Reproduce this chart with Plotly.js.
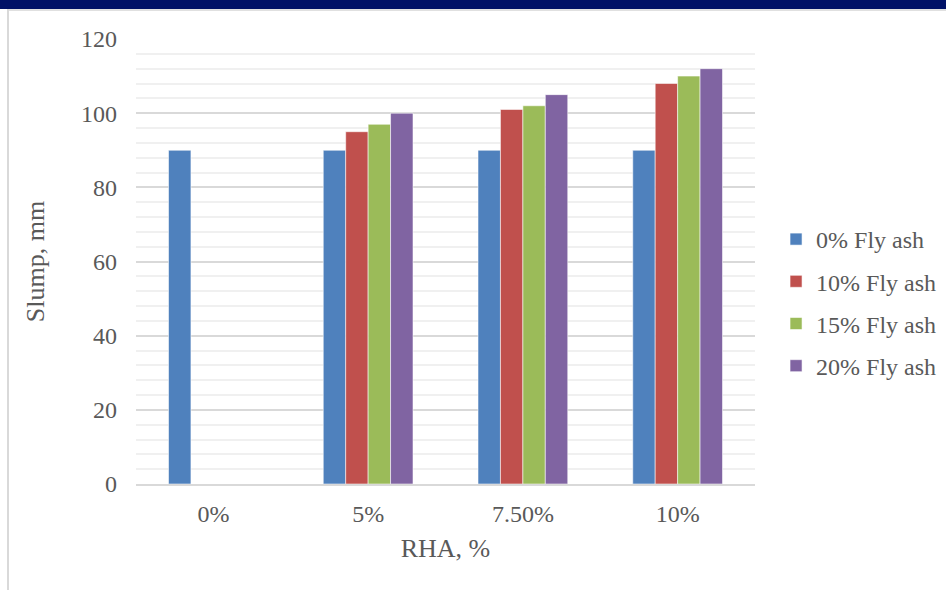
<!DOCTYPE html>
<html>
<head>
<meta charset="utf-8">
<script src="https://cdn.plot.ly/plotly-3.0.1.min.js"></script>
<style>
  html, body { margin: 0; padding: 0; background: #ffffff; }
  #wrap { position: relative; width: 946px; height: 590px; overflow: hidden; }
  #band { position: absolute; left: 0; top: 0; width: 946px; height: 9px; background: #001166; z-index: 2; }
  #topline { position: absolute; left: 8px; top: 9px; width: 938px; height: 2px; background: #e0e0e0; z-index: 2; }
  #leftline { position: absolute; left: 7px; top: 9px; width: 2px; height: 581px; background: #d9d9d9; z-index: 2; }
  #chart { position: absolute; left: 0; top: 0; width: 946px; height: 590px; }
</style>
</head>
<body>
<div id="wrap">
  <div id="chart"></div>
  <div id="band"></div>
  <div id="topline"></div>
  <div id="leftline"></div>
</div>
<script>
const categories = ["0%", "5%", "7.50%", "10%"];
const seriesNames = ["0% Fly ash", "10% Fly ash", "15% Fly ash", "20% Fly ash"];
const flyAsh0 = [90, 90, 90, 90];
const flyAsh10 = [0, 95, 101, 108];
const flyAsh15 = [0, 97, 102, 110];
const flyAsh20 = [0, 100, 105, 112];
const yTicks = [0, 20, 40, 60, 80, 100, 120];
const colors = ["#4F81BD", "#C0504D", "#9BBB59", "#8064A2"];

const seriesValues = [flyAsh0, flyAsh10, flyAsh15, flyAsh20];
const traces = seriesValues.map((vals, i) => ({
  type: "bar",
  name: seriesNames[i],
  x: categories,
  y: vals,
  legendgroup: "g" + i,
  marker: { color: colors[i], line: { color: "rgba(255,255,255,0.55)", width: 1 } },
  hoverinfo: "x+y+name"
}));

const font = { family: "Liberation Serif, Times New Roman, serif", color: "#595959" };

const layout = {
  width: 946,
  height: 590,
  margin: { l: 136, r: 191, t: 39, b: 106, autoexpand: false },
  paper_bgcolor: "rgba(0,0,0,0)",
  plot_bgcolor: "#ffffff",
  barmode: "group",
  bargap: 0.42,
  bargroupgap: 0,
  font: Object.assign({ size: 24 }, font),
  showlegend: true,
  legend: {
    x: 1.034, xanchor: "left",
    y: 0.6, yanchor: "top",
    traceorder: "grouped",
    tracegroupgap: 8,
    font: Object.assign({ size: 24 }, font),
    bgcolor: "rgba(0,0,0,0)"
  },
  xaxis: {
    type: "category",
    tickvals: categories,
    ticktext: categories,
    showgrid: false,
    showline: true,
    linecolor: "#d9d9d9",
    linewidth: 2,
    ticks: "",
    ticklabelstandoff: 7,
    tickfont: Object.assign({ size: 24 }, font),
    title: { text: "RHA, %", font: Object.assign({ size: 26 }, font), standoff: 13 },
    zeroline: false,
    fixedrange: true
  },
  yaxis: {
    range: [0, 120],
    tickvals: yTicks,
    ticktext: yTicks.map(String),
    showgrid: true,
    gridcolor: "#d9d9d9",
    gridwidth: 2,
    minor: { dtick: 4, tick0: 0, showgrid: true, gridcolor: "#f0f0f0", gridwidth: 2, ticks: "" },
    zeroline: false,
    showline: false,
    ticks: "",
    ticklabelstandoff: 18,
    tickfont: Object.assign({ size: 24 }, font),
    title: { text: "Slump, mm", font: Object.assign({ size: 26 }, font), standoff: 28 },
    fixedrange: true
  }
};

Plotly.newPlot("chart", traces, layout, { displayModeBar: false, staticPlot: true });
</script>
</body>
</html>
